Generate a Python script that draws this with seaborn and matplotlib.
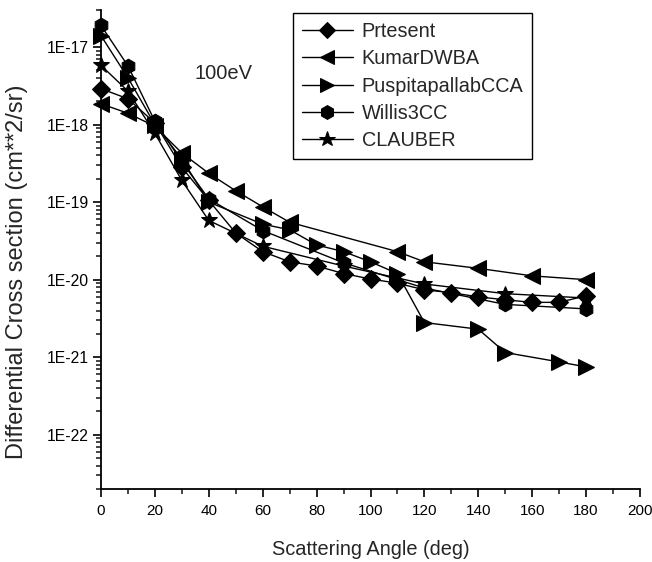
import matplotlib
matplotlib.use("Agg")
import matplotlib.pyplot as plt
import matplotlib.ticker as mticker
import seaborn as sns
import numpy as np

sns.set_style("ticks")
plt.rcParams['font.family'] = ['Liberation Sans', 'DejaVu Sans']

# Data
present_x = [0, 10, 20, 30, 40, 50, 60, 70, 80, 90, 100, 110, 120, 130, 140, 150, 160, 170, 180]
present_y = [2.9e-18, 2.15e-18, 1.05e-18, 2.8e-19, 1.05e-19, 4.0e-20, 2.3e-20, 1.7e-20, 1.5e-20,
             1.2e-20, 1.02e-20, 9.0e-21, 7.4e-21, 6.8e-21, 6.0e-21, 5.5e-21, 5.1e-21, 5.1e-21, 6.2e-21]

kumar_x = [0, 10, 20, 30, 40, 50, 60, 70, 110, 120, 140, 160, 180]
kumar_y = [1.85e-18, 1.4e-18, 9.5e-19, 4.3e-19, 2.35e-19, 1.4e-19, 8.7e-20, 5.5e-20,
           2.3e-20, 1.7e-20, 1.4e-20, 1.12e-20, 1.0e-20]

puspita_x = [0, 10, 20, 30, 40, 60, 70, 80, 90, 100, 110, 120, 140, 150, 170, 180]
puspita_y = [1.4e-17, 4.0e-18, 1.0e-18, 3.6e-19, 1.0e-19, 5.2e-20, 4.4e-20, 2.8e-20, 2.3e-20,
             1.7e-20, 1.2e-20, 2.8e-21, 2.3e-21, 1.15e-21, 8.7e-22, 7.5e-22]

willis_x = [0, 10, 20, 30, 40, 60, 90, 120, 150, 180]
willis_y = [1.9e-17, 5.7e-18, 1.1e-18, 3.3e-19, 1.1e-19, 4.3e-20, 1.65e-20, 7.8e-21, 4.8e-21, 4.2e-21]

clauber_x = [0, 10, 20, 30, 40, 60, 90, 120, 150, 180]
clauber_y = [5.8e-18, 2.7e-18, 7.7e-19, 1.9e-19, 5.8e-20, 2.7e-20, 1.5e-20, 8.8e-21, 6.6e-21, 5.8e-21]

y_ticks = [1e-22, 1e-21, 1e-20, 1e-19, 1e-18, 1e-17]
y_tick_labels = ["1E-22", "1E-21", "1E-20", "1E-19", "1E-18", "1E-17"]
x_ticks = [0, 20, 40, 60, 80, 100, 120, 140, 160, 180, 200]

series = [
    ("Prtesent", present_x, present_y, "D", 9),
    ("KumarDWBA", kumar_x, kumar_y, "<", 11),
    ("PuspitapallabCCA", puspita_x, puspita_y, ">", 11),
    ("Willis3CC", willis_x, willis_y, "h", 10.5),
    ("CLAUBER", clauber_x, clauber_y, "*", 12),
]

fig = plt.figure(figsize=(6.52, 5.62), dpi=100)
ax = fig.add_axes([101 / 652, 73 / 562, 539 / 652, 479 / 562])

for name, xs, ys, mk, ms in series:
    sns.lineplot(x=xs, y=ys, ax=ax, color="black", linewidth=1.0, marker=mk,
                 markersize=ms, markeredgecolor="black", markerfacecolor="black",
                 label=name, estimator=None, sort=False, clip_on=False)

ax.set_yscale("log")
ax.set_xlim(0, 200)
ax.set_ylim(2e-23, 3e-17)
ax.set_xticks(x_ticks)
ax.set_xticklabels([str(v) for v in x_ticks])
ax.xaxis.set_minor_locator(mticker.MultipleLocator(10))
ax.set_yticks(y_ticks)
ax.set_yticklabels(y_tick_labels)
ax.yaxis.set_minor_locator(mticker.LogLocator(base=10, subs=np.arange(2, 10), numticks=20))
ax.yaxis.set_minor_formatter(mticker.NullFormatter())

ax.tick_params(axis="x", which="major", direction="out", length=6, width=1.2,
               labelsize=11, colors="black", pad=5)
ax.tick_params(axis="y", which="major", direction="out", length=6, width=1.2,
               labelsize=11.3, colors="black", pad=3)
ax.tick_params(axis="both", which="minor", direction="out", length=3.5, width=1.2)
for s in ["top", "right"]:
    ax.spines[s].set_visible(False)
for s in ["left", "bottom"]:
    ax.spines[s].set_linewidth(1.3)
    ax.spines[s].set_color("black")

ax.set_xlabel("Scattering Angle (deg)", fontsize=14.4)
ax.xaxis.set_label_coords(0.5, -0.106)
ax.set_ylabel("Differential Cross section (cm**2/sr)", fontsize=17)
ax.yaxis.set_label_coords(-0.135, 0.453)

ax.text(34.8, 4.6e-18, "100eV", fontsize=14.5, va="center", ha="left")

leg = ax.legend(loc="upper left", bbox_to_anchor=((293 - 101) / 539, (489 - 13) / 479),
                borderaxespad=0, fontsize=14.3,
                frameon=True, fancybox=False, edgecolor="black", framealpha=1,
                handlelength=2.55, handletextpad=0.45, borderpad=0.45, labelspacing=0.42,
                markerscale=0.95)
leg.get_frame().set_linewidth(1.0)

fig.savefig("out.png", dpi=100)
